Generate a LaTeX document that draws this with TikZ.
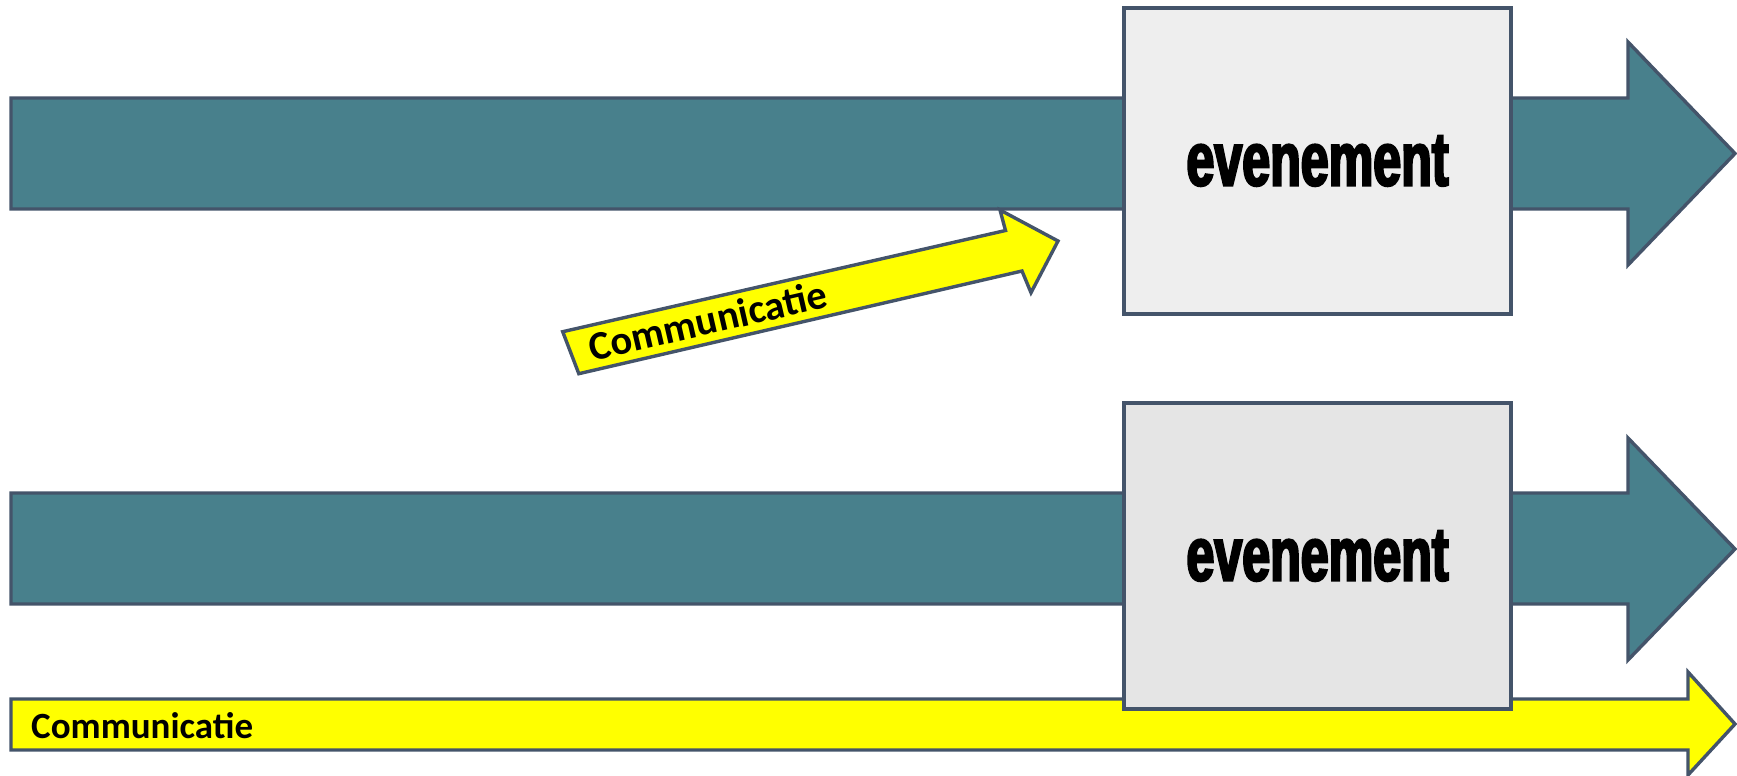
\documentclass[tikz,border=0pt]{standalone}
\usepackage{fontspec}
\newfontfamily\comfont{Carlito}
\newfontfamily\evfont{Liberation Sans}[FakeStretch=0.66,BoldFeatures={FakeBold=3}]
\definecolor{tealfill}{HTML}{48808C}
\definecolor{edgecol}{HTML}{44546A}
\definecolor{boxA}{HTML}{EEEEEE}
\definecolor{boxB}{HTML}{E5E5E5}
\definecolor{yel}{HTML}{FFFF00}
\begin{document}
\begin{tikzpicture}[x=1pt,y=-1pt,
  outline/.style={draw=edgecol,line width=3.4pt,line join=miter},
  tealarrow/.style={outline,fill=tealfill},
  yelarrow/.style={outline,fill=yel},
  evbox/.style={outline,rectangle,minimum width=387pt,minimum height=306pt,inner sep=0pt,
    font=\evfont\bfseries\fontsize{76}{80}\selectfont},
  comtext/.style={inner sep=0pt,text=black,font=\comfont\bfseries}]
\useasboundingbox (0,0) rectangle (1737,776);
% teal arrows
\draw[tealarrow] (11,98) -- (1628,98) -- (1628,42) -- (1735,153.5) -- (1628,265) -- (1628,209) -- (11,209) -- cycle;
\draw[tealarrow] (11,493) -- (1628,493) -- (1628,438) -- (1735,549) -- (1628,660) -- (1628,604) -- (11,604) -- cycle;
% bottom yellow arrow
\draw[yelarrow] (11,699) -- (1688,699) -- (1688,672) -- (1735,724) -- (1688,775) -- (1688,750) -- (11,750) -- cycle;
% boxes
\node[evbox,fill=boxA] (ev1) at (1317.5,161) {evenement};
\node[evbox,fill=boxB] (ev2) at (1317.5,556) {evenement};
% slanted yellow arrow
\draw[yelarrow] (562.7,331.7) -- (1005.5,230.5) -- (1000,210) -- (1058,241) -- (1031,292.7) -- (1022,271) -- (578.8,373.7) -- cycle;
% texts
\node[comtext,rotate=13,anchor=base,font=\comfont\bfseries\fontsize{40.5}{48}\selectfont] (c1) at (711,334) {Communicatie};
\node[comtext,anchor=base west,font=\comfont\bfseries\fontsize{37}{44}\selectfont] (c2) at (31,738) {Communicatie};
\end{tikzpicture}
\end{document}
